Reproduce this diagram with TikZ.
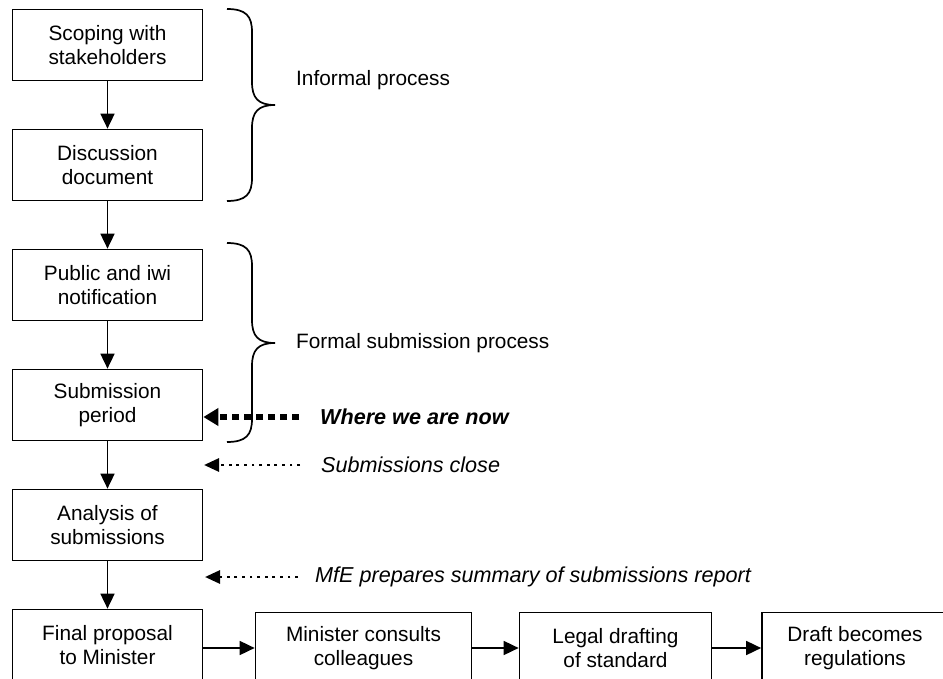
\documentclass[tikz,border=0pt]{standalone}
\usepackage{fontspec}
\setmainfont{Liberation Sans}
\usetikzlibrary{arrows.meta}
\begin{document}
\begin{tikzpicture}[x=1pt,y=-1pt,
  txt/.style={font=\fontsize{20.8}{23.5}\selectfont},
  notetxt/.style={font=\fontsize{21.6}{24}\selectfont\itshape},
  boldnote/.style={font=\fontsize{21.6}{24}\selectfont\bfseries\itshape},
  box/.style={txt,draw,line width=1.7pt,align=center,inner sep=0pt,minimum height=71pt},
  arr/.style={line width=1.7pt,-{Triangle[length=15pt,width=14pt]}},
  lbl/.style={txt,anchor=west,inner sep=0pt},
  bracepath/.style={line width=1.7pt},
  nowarr/.style={line width=6.5pt,dash pattern=on 7pt off 5pt,-{Triangle[length=15pt,width=17pt]}},
  dotarr/.style={line width=2.8pt,dash pattern=on 2.8pt off 4.8pt,-{Triangle[length=15pt,width=13pt]}}]
\useasboundingbox (0,0) rectangle (943,679);
\clip (0,0) rectangle (943,679);
% vertical chain
\node[box,minimum width=190pt] (scope) at (107.5,45) {Scoping with\\stakeholders};
\node[box,minimum width=190pt] (disc) at (107.5,165) {Discussion\\document};
\node[box,minimum width=190pt] (pub) at (107.5,285) {Public and iwi\\notification};
\node[box,minimum width=190pt] (subp) at (107.5,405) {Submission\\period};
\node[box,minimum width=190pt] (anal) at (107.5,525) {Analysis of\\submissions};
\node[box,minimum width=190pt] (final) at (107.5,645) {Final proposal\\to Minister};
% bottom row
\node[box,minimum width=216pt] (mini) at (363.5,648) {Minister consults\\colleagues};
\node[box,minimum width=192pt] (legal) at (615.5,648) {Legal drafting\\of standard};
\node[box,minimum width=186pt] (draft) at (855,648) {Draft becomes\\regulations};
% arrows
\draw[arr] (scope) -- (disc);
\draw[arr] (disc) -- (pub);
\draw[arr] (pub) -- (subp);
\draw[arr] (subp) -- (anal);
\draw[arr] (anal) -- (final);
\draw[arr] (final.east |- mini.west) -- (mini.west);
\draw[arr] (mini) -- (legal);
\draw[arr] (legal) -- (draft);
% braces
\draw[bracepath] (227,9) .. controls (246,9) and (252,16) .. (252,32) -- (252,82)
  .. controls (252,98) and (258,105) .. (275,105)
  .. controls (258,105) and (252,112) .. (252,128) -- (252,178)
  .. controls (252,194) and (246,201) .. (227,201);
\draw[bracepath] (227,243) .. controls (246,243) and (252,250) .. (252,266) -- (252,320)
  .. controls (252,336) and (258,343) .. (275,343)
  .. controls (258,343) and (252,350) .. (252,366) -- (252,419)
  .. controls (252,435) and (246,442) .. (227,442);
\node[lbl] (informal) at (296,80) {Informal process};
\node[lbl] (formal) at (296,343) {Formal submission process};
% side notes
\node[lbl,boldnote] (now) at (320,417) {Where we are now};
\node[lbl,notetxt] (close) at (321,465) {Submissions close};
\node[lbl,notetxt] (mfe) at (315,577) {MfE prepares summary of submissions report};
\coordinate (nowstart) at (299,417);
\coordinate (closestart) at (300,465);
\coordinate (closetip) at (204,465);
\coordinate (mfestart) at (298,577);
\coordinate (mfetip) at (205,577);
\draw[nowarr] (nowstart) -- (subp.east |- nowstart);
\draw[dotarr] (closestart) -- (closetip);
\draw[dotarr] (mfestart) -- (mfetip);
\end{tikzpicture}
\end{document}
